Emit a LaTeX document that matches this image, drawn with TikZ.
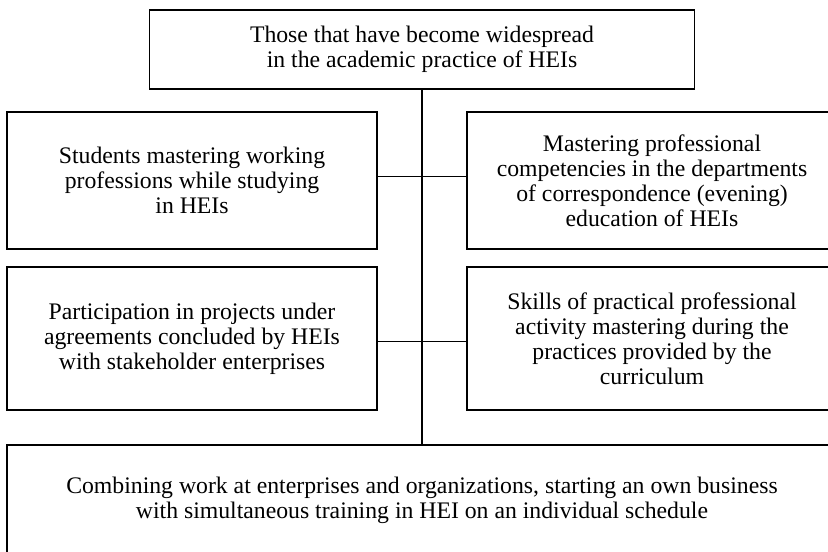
\documentclass[tikz,border=0pt]{standalone}
\usepackage{fontspec}
\setmainfont{Liberation Serif}
\usetikzlibrary{positioning}

\begin{document}
\begin{tikzpicture}[
  x=0.75pt, y=-0.75pt,
  box/.style={draw, line width=1pt, align=center, inner sep=0pt,
    font=\fontsize{17.8}{18.75}\selectfont},
  halfbox/.style={box, minimum width=277.5pt},
  line/.style={line width=1pt}
]
\useasboundingbox (0,0) rectangle (828,551);
\clip (0,0) rectangle (828,551);

\node[box, minimum width=408.75pt, minimum height=59.25pt] (head) at (422,49.5)
  {Those that have become widespread\\in the academic practice of HEIs};

% first row, left and right of the trunk
\node[halfbox, minimum height=102.75pt, node distance=98.25pt, below of=head, xshift=-172.5pt] (work)
  {Students mastering working\\professions while studying\\in HEIs};
\node[halfbox, minimum height=102.75pt, node distance=98.25pt, below of=head, xshift=172.5pt] (corr)
  {Mastering professional\\competencies in the departments\\of correspondence (evening)\\education of HEIs};

% second row
\node[halfbox, minimum height=107.25pt, node distance=118.5pt, below of=work] (proj)
  {Participation in projects under\\agreements concluded by HEIs\\with stakeholder enterprises};
\node[halfbox, minimum height=107.25pt, node distance=118.5pt, below of=corr] (prac)
  {Skills of practical professional\\activity mastering during the\\practices provided by the\\curriculum};

\node[box, minimum width=622.5pt, minimum height=82.5pt, node distance=121.125pt, below of=proj, xshift=172.5pt] (comb)
  {Combining work at enterprises and organizations, starting an own business\\with simultaneous training in HEI on an individual schedule};

\draw[line] (head) -- (comb);
\draw[line] ([yshift=3pt]work.east) -- ([yshift=3pt]corr.west);
\draw[line] ([yshift=-2pt]proj.east) -- ([yshift=-2pt]prac.west);

\end{tikzpicture}
\end{document}
